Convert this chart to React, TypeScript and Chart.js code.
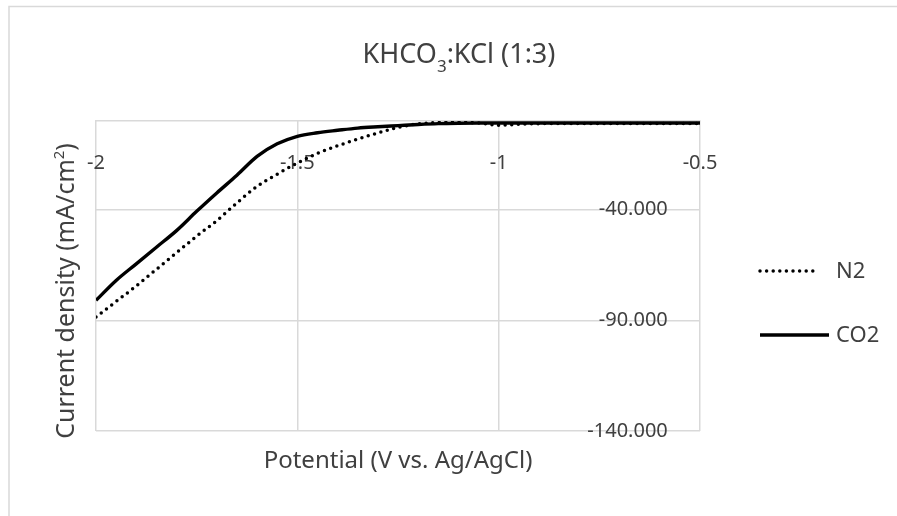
import React, { useEffect, useRef } from "react";
import { Chart, registerables } from "chart.js";

Chart.register(...registerables);

// ---- data ----
const potential = [
  -2.0, -1.95, -1.9, -1.85, -1.8, -1.75, -1.7, -1.65, -1.6, -1.55, -1.5,
  -1.45, -1.4, -1.35, -1.3, -1.25, -1.2, -1.15, -1.1, -1.05, -1.0, -0.95,
  -0.9, -0.85, -0.8, -0.75, -0.7, -0.65, -0.6, -0.55, -0.5,
];
const n2Current = [
  -88.5, -81.5, -74.5, -67, -59.5, -52, -45, -37, -29.5, -24, -19,
  -14.6, -11.2, -8.2, -5.4, -2.9, -1.3, -0.7, -0.6, -0.9, -1.9, -1.5,
  -1.2, -1.1, -1.1, -1.1, -1.1, -1.1, -1.1, -1.1, -1.1,
];
const co2Current = [
  -81, -72, -64.5, -57, -49.5, -40.8, -32.5, -24.5, -16, -10.3, -6.9,
  -5.3, -4.2, -3.2, -2.6, -2.1, -1.6, -1.2, -1.0, -0.9, -0.9, -0.9,
  -0.9, -0.9, -0.9, -0.9, -0.9, -0.9, -0.9, -0.9, -0.9,
];
const seriesNames = ["N2", "CO2"];
const xTicks = [-2, -1.5, -1, -0.5];
const yTicks = [-140, -90, -40];
const yAxisCrossAt = -0.58; // where the value-axis labels sit (inside, left of the right edge)
const titleMain = "KHCO";
const titleSub = "3";
const titleRest = ":KCl (1:3)";
const xTitle = "Potential (V vs. Ag/AgCl)";
const yTitleMain = "Current density (mA/cm";
const yTitleSup = "2";
const yTitleEnd = ")";

const FONT = "'Noto Sans', 'Open Sans', sans-serif";
const GRID = "#d9d9d9";
const TEXT = "#404040";

const decorPlugin = {
  id: "decor",
  beforeDraw(chart: any) {
    const ctx = chart.ctx;
    ctx.save();
    ctx.strokeStyle = GRID;
    ctx.lineWidth = 1.5;
    ctx.beginPath();
    ctx.moveTo(9, 520);
    ctx.lineTo(9, 6.5);
    ctx.lineTo(900, 6.5);
    ctx.stroke();
    ctx.restore();
  },
  afterDraw(chart: any) {
    const ctx = chart.ctx;
    const area = chart.chartArea;
    ctx.save();
    ctx.fillStyle = TEXT;
    ctx.textBaseline = "alphabetic";

    // Title with subscript
    const tSize = 27;
    const subSize = 17;
    ctx.font = `${tSize}px ${FONT}`;
    const w1 = ctx.measureText(titleMain).width;
    const w3 = ctx.measureText(titleRest).width;
    ctx.font = `${subSize}px ${FONT}`;
    const w2 = ctx.measureText(titleSub).width;
    const total = w1 + w2 + w3;
    let tx = 459 - total / 2;
    const ty = 63;
    ctx.textAlign = "left";
    ctx.font = `${tSize}px ${FONT}`;
    ctx.fillText(titleMain, tx, ty);
    tx += w1;
    ctx.font = `${subSize}px ${FONT}`;
    ctx.fillText(titleSub, tx, ty + 9);
    tx += w2;
    ctx.font = `${tSize}px ${FONT}`;
    ctx.fillText(titleRest, tx, ty);

    // X axis title
    ctx.font = `24px ${FONT}`;
    ctx.textAlign = "center";
    ctx.fillText(xTitle, (area.left + area.right) / 2, 468);

    // Y axis title (rotated) with superscript
    const ySize = 25;
    const supSize = 15;
    ctx.font = `${ySize}px ${FONT}`;
    const a1 = ctx.measureText(yTitleMain).width;
    const a3 = ctx.measureText(yTitleEnd).width;
    ctx.font = `${supSize}px ${FONT}`;
    const a2 = ctx.measureText(yTitleSup).width;
    const ytotal = a1 + a2 + a3;
    ctx.save();
    ctx.translate(74, 291);
    ctx.rotate(-Math.PI / 2);
    ctx.textAlign = "left";
    let yx = -ytotal / 2;
    ctx.font = `${ySize}px ${FONT}`;
    ctx.fillText(yTitleMain, yx, 0);
    yx += a1;
    ctx.font = `${supSize}px ${FONT}`;
    ctx.fillText(yTitleSup, yx, -10);
    yx += a2;
    ctx.font = `${ySize}px ${FONT}`;
    ctx.fillText(yTitleEnd, yx, 0);
    ctx.restore();

    // Legend
    const ds = chart.data.datasets;
    const items = [
      { y: 271, x0: 760, x1: 818 },
      { y: 335, x0: 760, x1: 829 },
    ];
    items.forEach((it, i) => {
      const d = ds[i];
      ctx.save();
      ctx.strokeStyle = d.borderColor;
      ctx.lineWidth = d.borderWidth;
      ctx.lineCap = d.borderCapStyle || "butt";
      ctx.setLineDash(d.borderDash || []);
      ctx.beginPath();
      ctx.moveTo(it.x0, it.y);
      ctx.lineTo(it.x1, it.y);
      ctx.stroke();
      ctx.restore();
      ctx.font = `22px ${FONT}`;
      ctx.textAlign = "left";
      ctx.textBaseline = "middle";
      ctx.fillStyle = TEXT;
      ctx.fillText(seriesNames[i], 836, it.y + 1);
    });
    ctx.restore();
  },
};

export default function App() {
  const ref = useRef<HTMLCanvasElement | null>(null);
  useEffect(() => {
    if (!ref.current) return;
    const chart = new Chart(ref.current, {
      type: "scatter",
      data: {
        datasets: [
          {
            label: seriesNames[0],
            data: potential.map((x, i) => ({ x, y: n2Current[i] })),
            showLine: true,
            borderColor: "#000000",
            backgroundColor: "#000000",
            borderWidth: 3.5,
            borderDash: [0, 6.6],
            borderCapStyle: "round",
            pointRadius: 0,
            cubicInterpolationMode: "monotone",
          },
          {
            label: seriesNames[1],
            data: potential.map((x, i) => ({ x, y: co2Current[i] })),
            showLine: true,
            borderColor: "#000000",
            backgroundColor: "#000000",
            borderWidth: 3.4,
            pointRadius: 0,
            cubicInterpolationMode: "monotone",
          },
        ],
      },
      options: {
        animation: false,
        responsive: true,
        maintainAspectRatio: false,
        layout: { padding: { left: 96, right: 197, top: 121, bottom: 85 } },
        plugins: {
          legend: { display: false },
          title: { display: false },
          tooltip: { enabled: false },
        },
        scales: {
          x: {
            type: "linear",
            min: -2,
            max: -0.5,
            position: { y: 0 } as any,
            afterBuildTicks: (s: any) => {
              s.ticks = xTicks.map((v) => ({ value: v }));
            },
            grid: { color: GRID, lineWidth: 1.5, drawTicks: false },
            border: { color: GRID, width: 1.5 },
            ticks: {
              padding: 30,
              color: TEXT,
              font: { family: FONT, size: 20 },
              maxRotation: 0,
              callback: (v: any) => String(v),
            },
          },
          y: {
            type: "linear",
            min: -140,
            max: 0,
            position: { x: yAxisCrossAt } as any,
            afterBuildTicks: (s: any) => {
              s.ticks = yTicks.map((v) => ({ value: v }));
            },
            grid: { color: GRID, lineWidth: 1.5, drawTicks: false },
            border: { display: false },
            ticks: {
              padding: 0,
              color: TEXT,
              font: { family: FONT, size: 20 },
              callback: (v: any) => Number(v).toFixed(3),
            },
          },
        },
      },
      plugins: [decorPlugin],
    });
    return () => chart.destroy();
  }, []);
  return (
    <div style={{ position: "fixed", left: 0, top: 0, width: 897, height: 516, background: "#fff" }}>
      <canvas ref={ref} />
    </div>
  );
}
